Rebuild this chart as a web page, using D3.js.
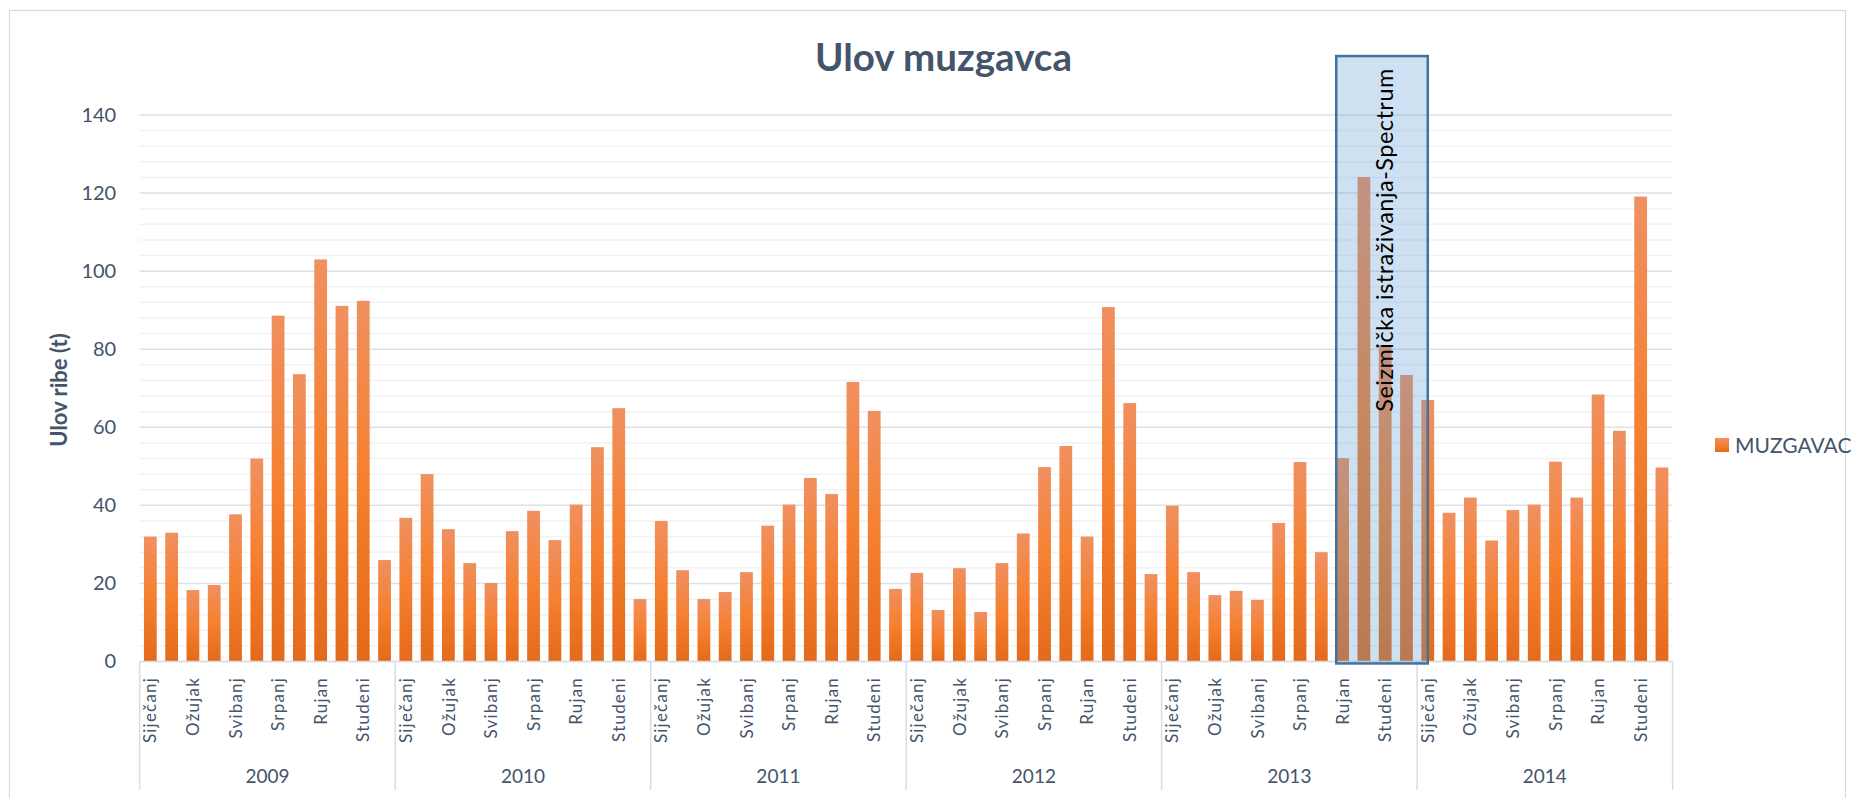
<!DOCTYPE html>
<html>
<head>
<meta charset="utf-8">
<script src="https://cdn.jsdelivr.net/npm/d3@7"></script>
<style>
  html, body { margin: 0; padding: 0; background: #ffffff; }
  svg { display: block; font-family: Lato, "Noto Sans", sans-serif; }
</style>
</head>
<body>
<svg id="chart" width="1858" height="798"></svg>
<script>
// Monthly catch of muzgavac (t), 2009–2014
const years = ["2009", "2010", "2011", "2012", "2013", "2014"];
const months = ["Siječanj", "Veljača", "Ožujak", "Travanj", "Svibanj", "Lipanj",
                "Srpanj", "Kolovoz", "Rujan", "Listopad", "Studeni", "Prosinac"];
const catch2009 = [32, 33, 18.3, 19.6, 37.7, 52, 88.6, 73.6, 103, 91.1, 92.4, 26];
const catch2010 = [36.8, 48, 33.9, 25.2, 20.1, 33.4, 38.6, 31.1, 40.2, 54.9, 64.9, 16];
const catch2011 = [36, 23.4, 16, 17.8, 22.9, 34.8, 40.2, 47, 42.9, 71.6, 64.2, 18.6];
const catch2012 = [22.7, 13.2, 23.9, 12.7, 25.2, 32.8, 49.8, 55.2, 32, 90.8, 66.2, 22.4];
const catch2013 = [39.9, 22.9, 17, 18.1, 15.8, 35.5, 51.1, 28, 52.1, 124.1, 81, 73.4];
const catch2014 = [67, 38.1, 42, 31, 38.8, 40.2, 51.2, 42, 68.4, 59.1, 119.1, 49.7];
const seriesName = "MUZGAVAC";
const yTicks = [0, 20, 40, 60, 80, 100, 120, 140];
const annotationText = "Seizmička istraživanja-Spectrum";

const yearly = [catch2009, catch2010, catch2011, catch2012, catch2013, catch2014];
const data = [];
years.forEach((yr, yi) => {
  months.forEach((m, mi) => {
    data.push({ key: yr + "-" + mi, year: yr, month: m, mi: mi, value: yearly[yi][mi] });
  });
});

const svg = d3.select("#chart");
const textColor = "#44546a";

const plotLeft = 139.7, plotRight = 1672.6, plotBottom = 661.5, plotTop = 115;

const x = d3.scaleBand()
  .domain(data.map(d => d.key))
  .range([plotLeft, plotRight])
  .paddingInner(0.4)
  .paddingOuter(0.2);

const xYear = d3.scaleBand()
  .domain(years)
  .range([plotLeft, plotRight]);

const y = d3.scaleLinear().domain([0, 140]).range([plotBottom, plotTop]);

// outer chart frame
svg.append("rect")
  .attr("x", 9.5).attr("y", 10.5)
  .attr("width", 1836).attr("height", 800)
  .attr("fill", "#ffffff")
  .attr("stroke", "#d9d9d9").attr("stroke-width", 1.2);

// bar fill
const defs = svg.append("defs");
const grad = defs.append("linearGradient")
  .attr("id", "barFill").attr("x1", 0).attr("y1", 0).attr("x2", 0).attr("y2", 1);
grad.append("stop").attr("offset", "0%").attr("stop-color", "#f09060");
grad.append("stop").attr("offset", "50%").attr("stop-color", "#f5802f");
grad.append("stop").attr("offset", "100%").attr("stop-color", "#e36a1a");

// minor gridlines
const minor = d3.range(4, 141, 4).filter(v => v % 20 !== 0);
svg.append("g").selectAll("line").data(minor).join("line")
  .attr("x1", plotLeft).attr("x2", plotRight)
  .attr("y1", d => y(d)).attr("y2", d => y(d))
  .attr("stroke", "#f2f2f2").attr("stroke-width", 1.5);

// major gridlines
svg.append("g").selectAll("line").data(yTicks).join("line")
  .attr("x1", plotLeft).attr("x2", plotRight)
  .attr("y1", d => y(d)).attr("y2", d => y(d))
  .attr("stroke", "#dde1e7").attr("stroke-width", 1.5);

// bars
svg.append("g").selectAll("rect").data(data).join("rect")
  .attr("x", d => x(d.key))
  .attr("y", d => y(d.value))
  .attr("width", x.bandwidth())
  .attr("height", d => y(0) - y(d.value))
  .attr("fill", "url(#barFill)");

// y axis labels
const yAxis = svg.append("g")
  .attr("transform", `translate(${plotLeft},0)`)
  .call(d3.axisLeft(y).tickValues(yTicks).tickSize(0).tickPadding(23.5));
yAxis.select(".domain").remove();
yAxis.selectAll("text")
  .attr("fill", textColor)
  .style("font-size", "20px")
  .style("font-family", "Lato, sans-serif");

// category axis (every second month is labelled)
const xAxis = svg.append("g")
  .attr("transform", `translate(0,${plotBottom})`)
  .call(d3.axisBottom(x)
    .tickSize(0)
    .tickFormat(k => {
      const d = data.find(e => e.key === k);
      return d.mi % 2 === 0 ? d.month : "";
    }));
xAxis.select(".domain").remove();
xAxis.selectAll("text")
  .attr("transform", "rotate(-90)")
  .attr("x", -15.5).attr("y", 0).attr("dy", "0.36em")
  .style("text-anchor", "end")
  .style("font-size", "17px")
  .style("letter-spacing", "1.2px")
  .style("font-family", "Lato, sans-serif")
  .attr("fill", textColor);

// axis baseline
svg.append("line")
  .attr("x1", plotLeft).attr("x2", plotRight)
  .attr("y1", plotBottom).attr("y2", plotBottom)
  .attr("stroke", "#d9dde3").attr("stroke-width", 1.5);

// year separators
const sepX = years.map(yr => xYear(yr)).concat([xYear.range()[1]]);
svg.append("g").selectAll("line").data(sepX).join("line")
  .attr("x1", d => d).attr("x2", d => d)
  .attr("y1", plotBottom).attr("y2", 790)
  .attr("stroke", "#d9dde3").attr("stroke-width", 1.5);

// year labels
const yearAxis = svg.append("g")
  .attr("transform", `translate(0,776)`)
  .call(d3.axisBottom(xYear).tickSize(0).tickPadding(0));
yearAxis.select(".domain").remove();
yearAxis.selectAll("text")
  .attr("y", 0).attr("dy", "0.36em")
  .style("font-size", "19px")
  .style("font-family", "Lato, sans-serif")
  .attr("fill", textColor);

// shaded period of seismic survey
const boxX0 = x("2013-8");
const boxX1 = x("2014-0") + x.bandwidth() / 2;
const boxY0 = y(155.1);
const boxY1 = y(-0.5);
svg.append("rect")
  .attr("x", boxX0).attr("y", boxY0)
  .attr("width", boxX1 - boxX0).attr("height", boxY1 - boxY0)
  .attr("fill", "#5b9bd5").attr("fill-opacity", 0.3)
  .attr("stroke", "#41719c").attr("stroke-width", 2.5);

svg.append("text")
  .attr("transform", `translate(${(boxX0 + boxX1) / 2 + 3},411.7) rotate(-90)`)
  .attr("dy", "0.36em")
  .attr("textLength", 343)
  .style("font-size", "23.5px")
  .style("font-family", "Lato, sans-serif")
  .attr("fill", "#000000")
  .text(annotationText);

// title
svg.append("text")
  .attr("x", 943.5).attr("y", 71)
  .attr("text-anchor", "middle")
  .style("font-size", "38.5px")
  .style("font-weight", "bold")
  .style("font-family", "Lato, sans-serif")
  .attr("fill", textColor)
  .text("Ulov muzgavca");

// y axis title
svg.append("text")
  .attr("transform", "translate(59,390) rotate(-90)")
  .attr("text-anchor", "middle")
  .attr("dy", "0.36em")
  .style("font-size", "22px")
  .style("font-weight", "bold")
  .style("font-family", "Lato, sans-serif")
  .attr("fill", textColor)
  .text("Ulov ribe (t)");

// legend
const legend = svg.append("g").attr("transform", "translate(1715,445)");
legend.append("rect")
  .attr("x", 0).attr("y", -7).attr("width", 14).attr("height", 14)
  .attr("fill", "url(#barFill)");
legend.append("text")
  .attr("x", 20).attr("y", 0).attr("dy", "0.36em")
  .style("font-size", "21px")
  .style("font-family", "Lato, sans-serif")
  .attr("fill", textColor)
  .text(seriesName);
</script>
</body>
</html>
